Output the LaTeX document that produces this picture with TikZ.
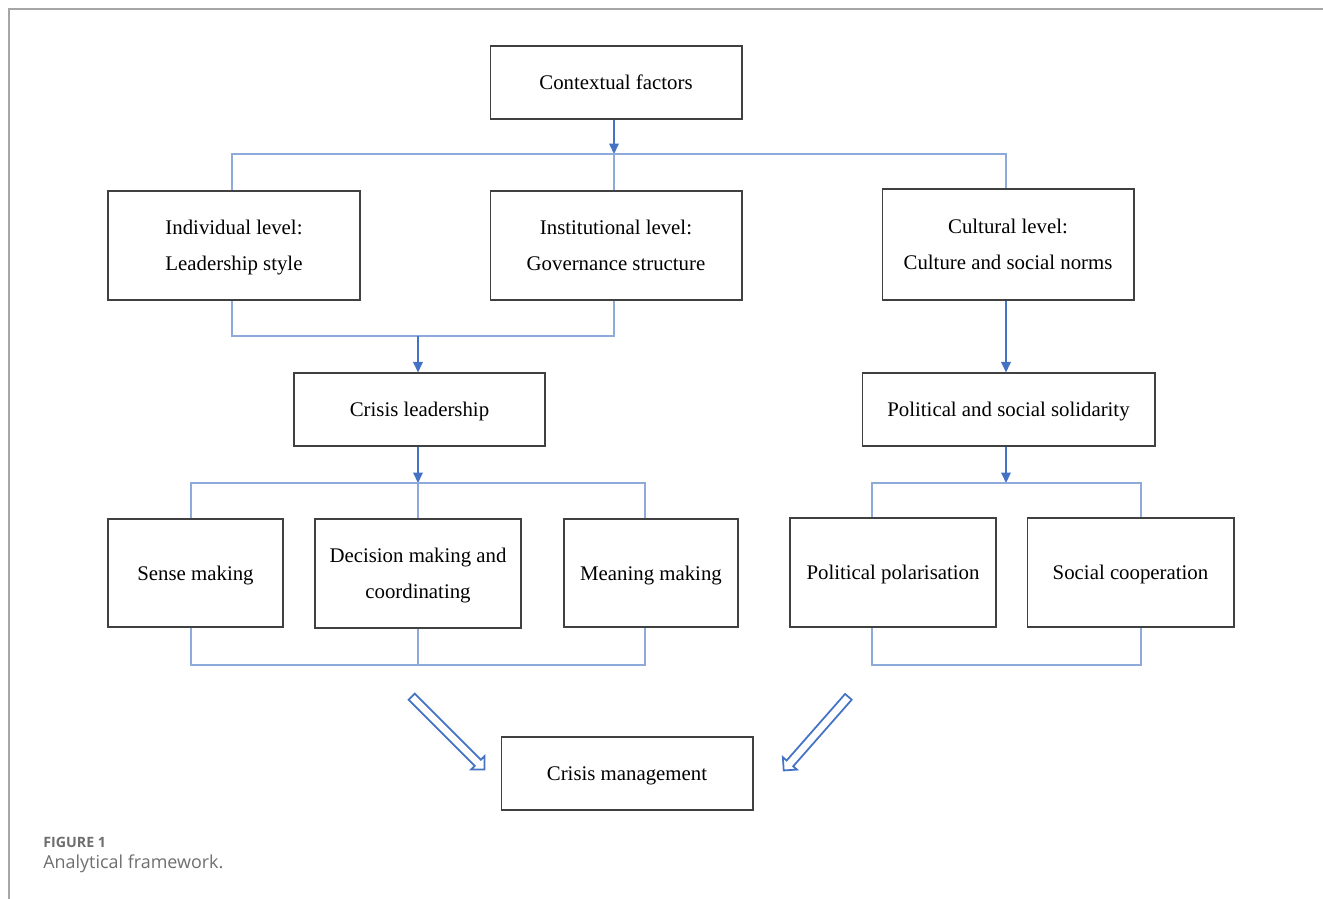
\documentclass[tikz,border=0pt]{standalone}
\usepackage{fontspec}
\setmainfont{Liberation Serif}
\newfontfamily\capfont{Open Sans}
\usepackage{tikz}
\usetikzlibrary{arrows.meta,shapes.arrows,calc}
\definecolor{linkblue}{HTML}{8EAADB}
\definecolor{arrowblue}{HTML}{4472C4}
\definecolor{capgrey}{HTML}{6E6E6E}
\tikzset{
  box/.style={draw=black!75, line width=0.6pt, align=center, text depth=0pt,
    font=\fontsize{11.85}{20.5}\selectfont, inner sep=2pt},
  link/.style={draw=linkblue, line width=0.7pt},
  flow/.style={draw=arrowblue, line width=1.2pt,
    -{Triangle[length=0.21cm,width=0.19cm]}},
  bigarrow/.style={single arrow, draw=arrowblue, line width=1pt, fill=white,
    inner sep=0.07cm, single arrow head extend=0.1cm, minimum height=#1},
}

\begin{document}
\begin{tikzpicture}[x=0.02cm, y=-0.02cm]
	\useasboundingbox (0,0) rectangle (1323,899);
	\draw[black!35, line width=0.85pt] (9,899) -- (9,9) -- (1323,9);

	\node[box, minimum width=5.04cm, minimum height=1.46cm] (context) at (616,82.5) {Contextual factors};
	\node[box, minimum width=5.04cm, minimum height=2.18cm] (indiv) at (234,245.5) {Individual level:\\Leadership style};
	\node[box, minimum width=5.04cm, minimum height=2.18cm] (inst) at (616,245.5) {Institutional level:\\Governance structure};
	\node[box, minimum width=5.04cm, minimum height=2.22cm] (culture) at (1008,244.5) {Cultural level:\\Culture and social norms};
	\node[box, minimum width=5.02cm, minimum height=1.46cm] (lead) at (419.5,409.5) {Crisis leadership};
	\node[box, minimum width=5.86cm, minimum height=1.46cm] (solid) at (1008.5,409.5) {Political and social solidarity};
	\node[box, minimum width=3.5cm, minimum height=2.16cm] (sense) at (195.5,573) {Sense making};
	\node[box, minimum width=4.12cm, minimum height=2.18cm] (decide) at (418,573.5) {Decision making and\\coordinating};
	\node[box, minimum width=3.48cm, minimum height=2.16cm] (meaning) at (651,573) {Meaning making};
	\node[box, minimum width=4.12cm, minimum height=2.18cm] (polar) at (893,572.5) {Political polarisation};
	\node[box, minimum width=4.14cm, minimum height=2.18cm] (coop) at (1130.5,572.5) {Social cooperation};
	\node[box, minimum width=5.04cm, minimum height=1.46cm] (manage) at (627,773.5) {Crisis management};

	% bus corners
	\coordinate (topbus) at (614,154);
	\coordinate (midbus) at (418,336);
	\coordinate (leftbus) at (191,483);
	\coordinate (leftbusr) at (645,483);
	\coordinate (leftfoot) at (191,665);
	\coordinate (rightbus) at (872,483);
	\coordinate (rightbusr) at (1141,483);
	\coordinate (rightfoot) at (872,665);

	% upper level
	\draw[flow] (context.south -| topbus) -- (topbus);
	\draw[link] (indiv.north -| 232,0) |- (topbus) -| (culture.north -| 1006,0);
	\draw[link] (topbus) -- (inst.north -| topbus);
	\draw[link] (indiv.south -| 232,0) |- (midbus) -| (inst.south -| topbus);
	\draw[flow] (midbus) -- (lead.north -| midbus);
	\draw[flow] (culture.south -| 1006,0) -- (solid.north -| 1006,0);

	% leadership side
	\draw[flow] (lead.south -| midbus) -- (midbus |- leftbus);
	\draw[link] (sense.north -| leftbus) |- (leftbusr) -- (meaning.north -| leftbusr);
	\draw[link] (midbus |- leftbus) -- (decide.north -| midbus);
	\draw[link] (sense.south -| leftbus) |- (leftbusr |- leftfoot) -- (meaning.south -| leftbusr);
	\draw[link] (decide.south -| midbus) -- (midbus |- leftfoot);

	% solidarity side
	\draw[flow] (solid.south -| 1006,0) -- (1006,483);
	\draw[link] (polar.north -| rightbus) |- (rightbusr) -- (coop.north -| rightbusr);
	\draw[link] (polar.south -| rightbus) |- (rightbusr |- rightfoot) -- (coop.south -| rightbusr);

	% into crisis management
	\node[bigarrow=2.06cm, rotate=-45] (leftin) at (446.5,731.5) {};
	\node[bigarrow=1.96cm, rotate=-131.3] (rightin) at (817.5,732) {};

	\node[anchor=west, inner sep=0, text=capgrey, font=\capfont\bfseries\fontsize{8.1}{10}\selectfont] (figlabel) at (43,842) {FIGURE 1};
	\node[anchor=west, inner sep=0, text=capgrey, font=\capfont\fontsize{10.2}{12}\selectfont] (figcaption) at (43,864) {Analytical framework.};
\end{tikzpicture}
\end{document}
